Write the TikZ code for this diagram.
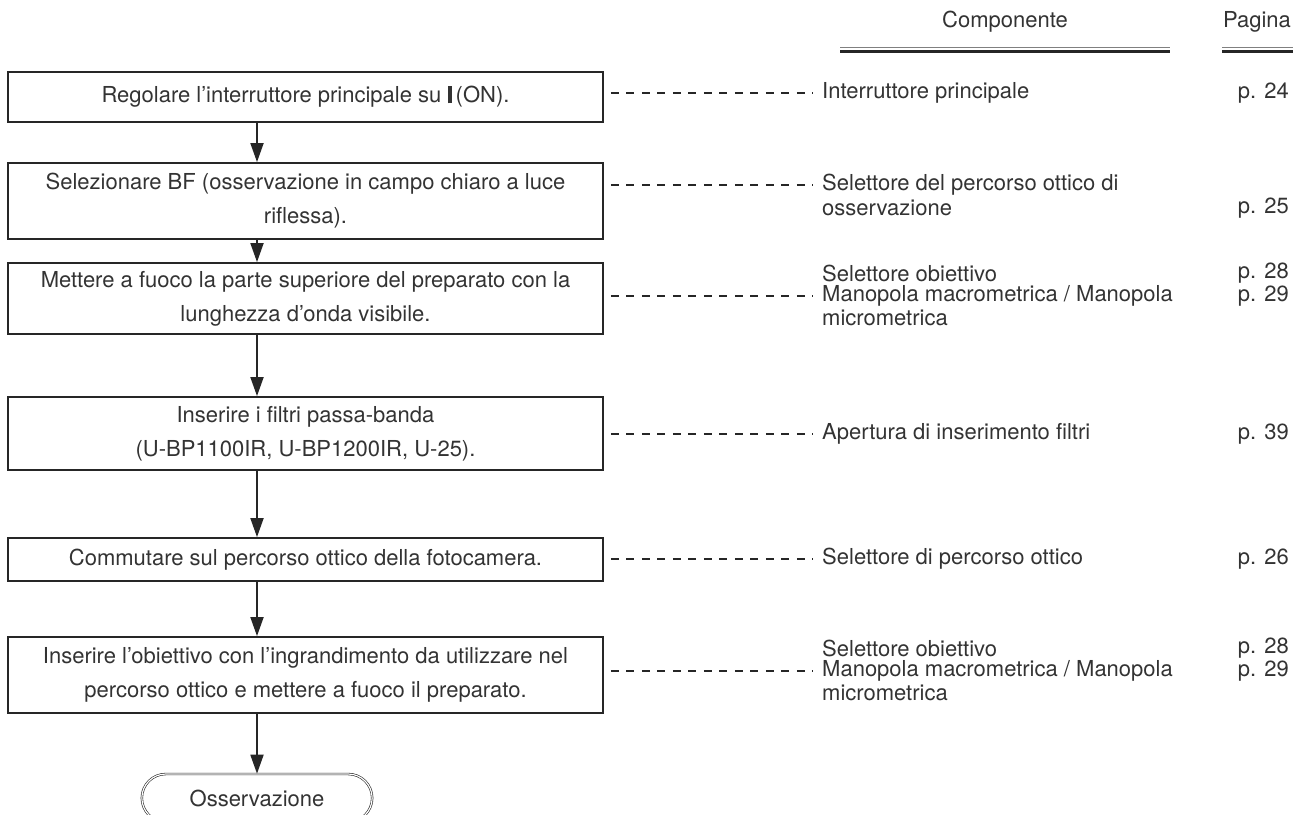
\documentclass[tikz,border=0pt]{standalone}
\usepackage{fontspec}
\setmainfont{TeX Gyre Heros}
\usetikzlibrary{arrows.meta,positioning,shapes.misc,calc}

\begin{document}
\begin{tikzpicture}[x=1pt, y=-1pt,
    every node/.style={font=\fontsize{22}{23}\selectfont, text=black!80},
    stepbox/.style={draw=black!85, line width=1.8pt, minimum width=595pt, align=center, inner sep=0pt,
      font=\fontsize{22}{34}\selectfont},
    flow/.style={-{Triangle[length=19pt,width=13pt]}, line width=1.8pt, draw=black!85},
    leader/.style={dash pattern=on 8pt off 7.5pt, line width=1.8pt, draw=black!85},
    item/.style={anchor=west, inner sep=0pt},
    page/.style={anchor=east, inner sep=0pt}]
  \useasboundingbox (0,0) rectangle (1306,814);
  % header
  \node (hcomp) at (1005,22) {Componente};
  \node (hpag) at (1257,22) {Pagina};
  \draw[black!50, line width=0.8pt] (840,47) -- (1170,47);
  \draw[black!85, line width=2.4pt] (840,51.5) -- (1170,51.5);
  \draw[black!50, line width=0.8pt] (1222,47) -- (1293,47);
  \draw[black!85, line width=2.4pt] (1222,51.5) -- (1293,51.5);
  % steps
  \node[stepbox, minimum height=50pt] (s1) at (305.5,97) {Regolare l'interruttore principale su \rule[-0.5pt]{4.5pt}{17pt}\,(ON).};
  \node[stepbox, minimum height=76pt] (s2) at (305.5,201) {Selezionare BF (osservazione in campo chiaro a luce\\riflessa).};
  \node[stepbox, minimum height=71pt] (s3) at (305.5,298.5) {Mettere a fuoco la parte superiore del preparato con la\\lunghezza d'onda visibile.};
  \node[stepbox, minimum height=73pt] (s4) at (305.5,433.5) {Inserire i filtri passa-banda\\(U-BP1100IR, U-BP1200IR, U-25).};
  \node[stepbox, minimum height=43pt] (s5) at (305.5,559.5) {Commutare sul percorso ottico della fotocamera.};
  \node[stepbox, minimum height=76pt] (s6) at (305.5,675) {Inserire l'obiettivo con l'ingrandimento da utilizzare nel\\percorso ottico e mettere a fuoco il preparato.};
  \node[rounded rectangle, draw=black!85, double, double distance=1.2pt, line width=0.6pt,
        minimum width=237pt, minimum height=48pt] (obs) at (257,798) {Osservazione};
  \coordinate (spine) at (257,0);
  \foreach \a/\b in {s1/s2,s2/s3,s3/s4,s4/s5,s5/s6,s6/obs}
    \draw[flow] (\a.south -| spine) -- (\b.north -| spine);
  % components and pages
  \node[item] (c1) at (822,93) {Interruttore principale};
  \node[page] (p1) at (1289,93) {p. 24};
  \node[item] (c2a) at (822,185) {Selettore del percorso ottico di};
  \node[item] (c2b) at (822,208) {osservazione};
  \node[page] (p2) at (1289,208) {p. 25};
  \node[item] (c3a) at (822,273) {Selettore obiettivo};
  \node[page] (p3a) at (1289,273) {p. 28};
  \node[item] (c3b) at (822,296) {Manopola macrometrica / Manopola};
  \node[page] (p3b) at (1289,296) {p. 29};
  \node[item] (c3c) at (822,318) {micrometrica};
  \node[item] (c4) at (822,434) {Apertura di inserimento filtri};
  \node[page] (p4) at (1289,434) {p. 39};
  \node[item] (c5) at (822,559) {Selettore di percorso ottico};
  \node[page] (p5) at (1289,559) {p. 26};
  \node[item] (c6a) at (822,648) {Selettore obiettivo};
  \node[page] (p6a) at (1289,648) {p. 28};
  \node[item] (c6b) at (822,671) {Manopola macrometrica / Manopola};
  \node[page] (p6b) at (1289,671) {p. 29};
  \node[item] (c6c) at (822,693) {micrometrica};
  \foreach \b/\c in {s1/c1,s2/c2a,s3/c3b,s4/c4,s5/c5,s6/c6b}
    \draw[leader] ($(\b.east |- \c.west)+(7,0)$) -- ($(\c.west)+(-9,0)$);
\end{tikzpicture}
\end{document}
